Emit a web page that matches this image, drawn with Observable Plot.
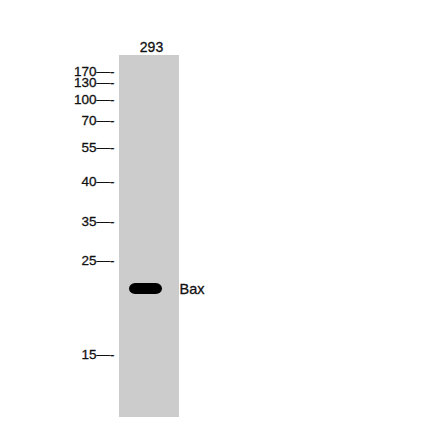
<!DOCTYPE html>
<html>
<head>
<meta charset="utf-8">
<script src="https://cdn.jsdelivr.net/npm/d3@7"></script>
<script src="https://cdn.jsdelivr.net/npm/@observablehq/plot@0.6"></script>
<style>
  html, body { margin: 0; padding: 0; background: #ffffff; }
  #chart svg { display: block; }
</style>
</head>
<body>
<div id="chart"></div>
<script>
// Lanes (samples)
const lanes = ["293"];
// Molecular weight markers (kDa) and their relative migration (0 = lane top, 1 = lane bottom)
const markerLabels = ["170", "130", "100", "70", "55", "40", "35", "25", "15"];
const markerRf = [0.046, 0.075, 0.122, 0.180, 0.254, 0.348, 0.459, 0.566, 0.826];
// Detected bands
const bandNames = ["Bax"];
const bandLane = ["293"];
const bandTop = [0.630];
const bandBottom = [0.660];

const markers = markerLabels.map((label, i) => ({label, rf: markerRf[i]}));
const bands = bandNames.map((name, i) => ({
  name, lane: bandLane[i], top: bandTop[i], bottom: bandBottom[i], mid: (bandTop[i] + bandBottom[i]) / 2
}));

const chart = Plot.plot({
  width: 440,
  height: 441,
  marginTop: 55,
  marginBottom: 24,
  marginLeft: 119,
  marginRight: 261,
  style: {background: "#ffffff", fontFamily: "Liberation Sans, Arial, sans-serif"},
  x: {type: "band", domain: lanes, padding: 0, axis: null},
  y: {domain: [0, 1], reverse: true, axis: null},
  marks: [
    Plot.barY(lanes, {x: d => d, y1: () => 0, y2: () => 1, fill: "#cccccc"}),
    Plot.barY(bands, {
      x: "lane", y1: "top", y2: "bottom",
      insetLeft: 10, insetRight: 17, rx: 6,
      fill: "#000000"
    }),
    Plot.text(markers, {
      y: "rf", text: d => d.label + "—-", frameAnchor: "left",
      textAnchor: "end", dx: -5, fontSize: 13.5, fill: "#111111",
      stroke: "#111111", strokeWidth: 0.3
    }),
    Plot.text(lanes, {
      x: d => d, text: d => d, frameAnchor: "top", dy: -13, dx: 2,
      fontSize: 14, fill: "#111111", stroke: "#111111", strokeWidth: 0.3
    }),
    Plot.text(bands, {
      y: "mid", text: "name", frameAnchor: "right",
      textAnchor: "start", dx: 0, fontSize: 14.5, fill: "#111111",
      stroke: "#111111", strokeWidth: 0.3
    })
  ]
});
document.getElementById("chart").append(chart);
</script>
</body>
</html>
